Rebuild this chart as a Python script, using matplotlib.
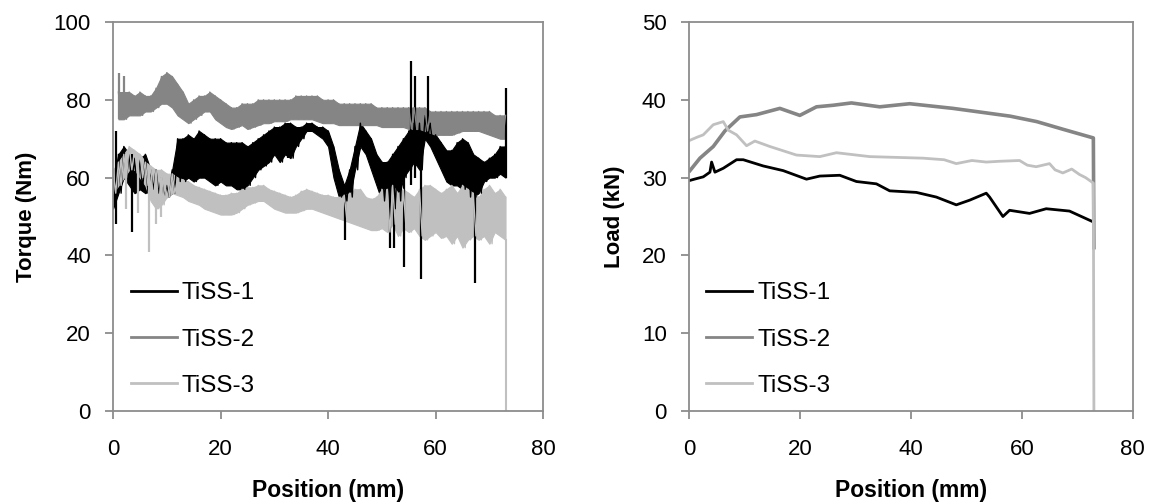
import matplotlib
matplotlib.use("Agg")
import matplotlib.pyplot as plt

plt.rcParams['font.family'] = ['Liberation Sans', 'DejaVu Sans']

labels = ["TiSS-1", "TiSS-2", "TiSS-3"]
colors = ["#000000", "#858585", "#c0c0c0"]

# left chart: torque, noisy signals read as upper / lower envelope per mm
t1_start, t1_stop = 0, 73
t1_hi = [60, 66, 68, 66, 65, 65, 66, 62, 62, 60, 58, 62, 70, 70, 71, 70, 72, 71, 70, 70,
         70, 69, 69, 69, 69, 68, 69, 70, 71, 72, 73, 73, 74, 74, 73, 73, 74, 74, 73, 73,
         72, 68, 62, 58, 62, 68, 74, 72, 70, 66, 64, 64, 66, 68, 70, 72, 74, 74, 76, 74,
         71, 69, 67, 67, 69, 70, 69, 66, 65, 64, 65, 66, 68, 68]
t1_lo = [52, 56, 60, 58, 56, 57, 56, 57, 56, 55, 55, 56, 59, 59, 60, 59, 60, 60, 59, 58,
         59, 58, 58, 57, 57, 58, 60, 62, 63, 64, 66, 64, 66, 65, 68, 70, 72, 72, 71, 70,
         68, 60, 55, 54, 55, 62, 68, 66, 62, 58, 54, 52, 52, 54, 60, 62, 64, 62, 70, 68,
         65, 62, 59, 58, 58, 57, 55, 55, 56, 59, 60, 60, 61, 60]
# isolated spikes: position, low, high
t1_spike_x = [0.5, 3.5, 32.6, 43.2, 51.5, 52.2, 54.2, 55.5, 56.2, 57.3, 58.6, 67.3, 73.0]
t1_spike_lo = [48, 46, 65, 44, 42, 42, 37, 58, 60, 34, 70, 33, 60]
t1_spike_hi = [72, 66, 74, 58, 62, 66, 68, 90, 86, 70, 86, 58, 83]

t2_start, t2_stop = 1, 73
t2_hi = [82, 82, 82, 81, 82, 81, 81, 83, 86, 87, 86, 84, 82, 79, 80, 81, 81, 82, 81, 80,
         79, 78, 78, 79, 79, 79, 80, 80, 80, 80, 80, 80, 80, 81, 81, 81, 81, 81, 80, 80,
         80, 79, 79, 79, 79, 79, 79, 79, 78, 78, 78, 78, 78, 78, 78, 78, 78, 78, 77, 77,
         77, 77, 77, 77, 77, 77, 77, 77, 77, 77, 76, 76, 76]
t2_lo = [75, 75, 76, 76, 76, 77, 77, 78, 79, 79, 78, 76, 75, 74, 75, 76, 77, 77, 75, 74,
         73, 72.5, 73, 73.5, 72.5, 73, 73.5, 74, 74, 74.5, 74.5, 74.5, 75, 75, 75, 75, 75,
         74.5, 74, 74, 74, 73.5, 73.5, 73.5, 73.5, 73.5, 73.5, 73.5, 73.5, 73, 73, 73, 73,
         73, 72.5, 72.5, 72.5, 72, 71.5, 71, 71, 71, 71, 71.5, 72, 72, 72, 72, 71.5, 71,
         70.5, 70, 70]
t2_spike_x = [1.2, 2.0]
t2_spike_lo = [75, 75]
t2_spike_hi = [87, 86]

t3_start, t3_stop = 0, 73
t3_hi = [62, 64, 66, 68, 67, 66, 64, 63, 62, 62, 61, 61, 60, 59.5, 59, 58, 57.5, 57, 56.5,
         56, 55.5, 55.5, 56, 56, 57, 57.5, 57.5, 58, 58, 57, 56.5, 56, 55.5, 55, 55.5, 56.5,
         57, 56.5, 56, 55.5, 55.5, 55, 55, 55.5, 56, 57, 57, 55, 54.5, 55, 57, 57, 58, 56,
         57, 56, 55, 57, 58, 58, 57, 56, 57, 58, 56, 58, 57, 56, 55, 57, 58, 56, 57, 55]
t3_lo = [56, 58, 60, 62, 62, 60, 58, 54, 52, 53, 55, 56, 55.5, 55, 54, 53.5, 53, 52, 51.5,
         51, 50.5, 50.5, 50.5, 51, 52, 53, 53.5, 54, 54, 53, 52, 51.5, 51, 51, 51, 51.5, 52,
         52, 51.5, 51, 50.5, 50, 49.5, 49, 48.5, 48, 47.5, 47, 46.5, 46.5, 47, 46, 48, 45,
         47, 46, 47, 45, 44, 45, 46, 44.5, 45, 43, 45, 42, 44, 45, 44, 45, 43, 46, 45, 44]
t3_spike_x = [2.5, 4.6, 6.6, 8.0, 9.0]
t3_spike_lo = [52, 51, 41, 48, 50]
t3_spike_hi = [66, 66, 62, 60, 60]
t3_end = 0

# right chart: load
l1_x = [0, 1, 2.6, 3.8, 4.1, 4.7, 6.2, 8.6, 9.8, 13.4, 17, 21.2, 23.6, 27.2, 30.2, 33.8,
        36.2, 41, 44.6, 48.2, 50.6, 53.6, 54.2, 56.6, 57.8, 61.4, 64.4, 68.6, 72.9]
l1_y = [29.6, 29.8, 30.1, 30.7, 32.0, 30.7, 31.2, 32.3, 32.3, 31.5, 30.9, 29.8, 30.2, 30.3,
        29.5, 29.2, 28.3, 28.1, 27.5, 26.5, 27.1, 28.0, 27.5, 25.0, 25.8, 25.4, 26.0, 25.7, 24.3]
l2_x = [0.2, 2, 4.4, 6.5, 9.2, 12.2, 16.4, 20, 23, 26, 29.3, 34.4, 39.8, 47.6, 57.9, 62.7,
        67.5, 72.9, 73.0]
l2_y = [30.9, 32.5, 34.0, 36.0, 37.8, 38.1, 38.9, 38.0, 39.1, 39.3, 39.6, 39.1, 39.5, 38.9,
        37.9, 37.2, 36.2, 35.1, 21.0]
l3_x = [0.2, 1.5, 2.6, 4.4, 6.2, 7.1, 8.6, 10.4, 11.9, 14.6, 19.4, 23.6, 26.6, 32.6, 42.2,
        46, 48.2, 51, 53.6, 56, 59.6, 61, 62.6, 65, 66, 67.4, 69, 70.4, 71.5, 72.9, 73.0]
l3_y = [34.8, 35.2, 35.5, 36.8, 37.2, 36.1, 35.5, 34.1, 34.7, 34.0, 32.9, 32.7, 33.2, 32.7,
        32.5, 32.3, 31.8, 32.2, 32.0, 32.1, 32.2, 31.6, 31.4, 31.8, 31.0, 30.6, 31.1, 30.4,
        30.0, 29.3, 0]


def noisy_series(ax, start, stop, hi, lo, sx, slo, shi, color, label):
    # dense noise: solid band between the read envelopes, zigzag trace, thin spikes
    n = len(hi)
    step = (stop - start) / (n - 1)
    xs = [start + i * step for i in range(n)]
    ax.fill_between(xs, lo, hi, color=color, lw=0.8)
    zx, zy = [], []
    for i in range(n):
        zx += [xs[i], xs[i] + step / 2]
        zy += [hi[i], lo[i]]
    ax.plot(zx[:-1], zy[:-1], color=color, lw=1.0, label=label)
    ax.vlines(sx, slo, shi, color=color, lw=1.6)


def style_axes(ax, ymax, ystep, ylabel):
    ax.set_xlim(0, 80)
    ax.set_ylim(0, ymax)
    ax.set_xticks(range(0, 81, 20))
    ax.set_yticks(range(0, ymax + 1, ystep))
    for s in ax.spines.values():
        s.set_color("#8c8c8c")
        s.set_linewidth(1.3)
    ax.tick_params(axis="both", direction="out", length=6, width=1.3, color="#8c8c8c",
                   labelsize=16)
    ax.tick_params(axis="x", pad=14)
    ax.tick_params(axis="y", pad=10)
    ax.set_xlabel("Position (mm)", fontsize=16.5, fontweight="bold", labelpad=14)
    ax.set_ylabel(ylabel, fontsize=16, fontweight="bold", labelpad=12)
    leg = ax.legend(loc="lower left", bbox_to_anchor=(-0.01, -0.02), frameon=False,
                    fontsize=17.5, handlelength=1.9, handletextpad=0.2, labelspacing=1.0)
    for ln in leg.get_lines():
        ln.set_linewidth(2)


fig = plt.figure(figsize=(11.5, 5.04), dpi=100)
ax1 = fig.add_axes([0.0983, 0.1845, 0.374, 0.7718])
ax2 = fig.add_axes([0.599, 0.1845, 0.386, 0.7718])

noisy_series(ax1, t1_start, t1_stop, t1_hi, t1_lo, t1_spike_x, t1_spike_lo, t1_spike_hi,
             colors[0], labels[0])
noisy_series(ax1, t2_start, t2_stop, t2_hi, t2_lo, t2_spike_x, t2_spike_lo, t2_spike_hi,
             colors[1], labels[1])
noisy_series(ax1, t3_start, t3_stop, t3_hi, t3_lo, t3_spike_x, t3_spike_lo, t3_spike_hi,
             colors[2], labels[2])
ax1.plot([t3_stop, t3_stop], [t3_lo[-1], t3_end], color=colors[2], lw=1.5)
style_axes(ax1, 100, 20, "Torque (Nm)")

ax2.plot(l1_x, l1_y, color=colors[0], lw=2, label=labels[0])
ax2.plot(l2_x, l2_y, color=colors[1], lw=2.6, label=labels[1])
ax2.plot(l3_x, l3_y, color=colors[2], lw=2, label=labels[2])
style_axes(ax2, 50, 10, "Load (kN)")

fig.savefig("out.png", dpi=100)
